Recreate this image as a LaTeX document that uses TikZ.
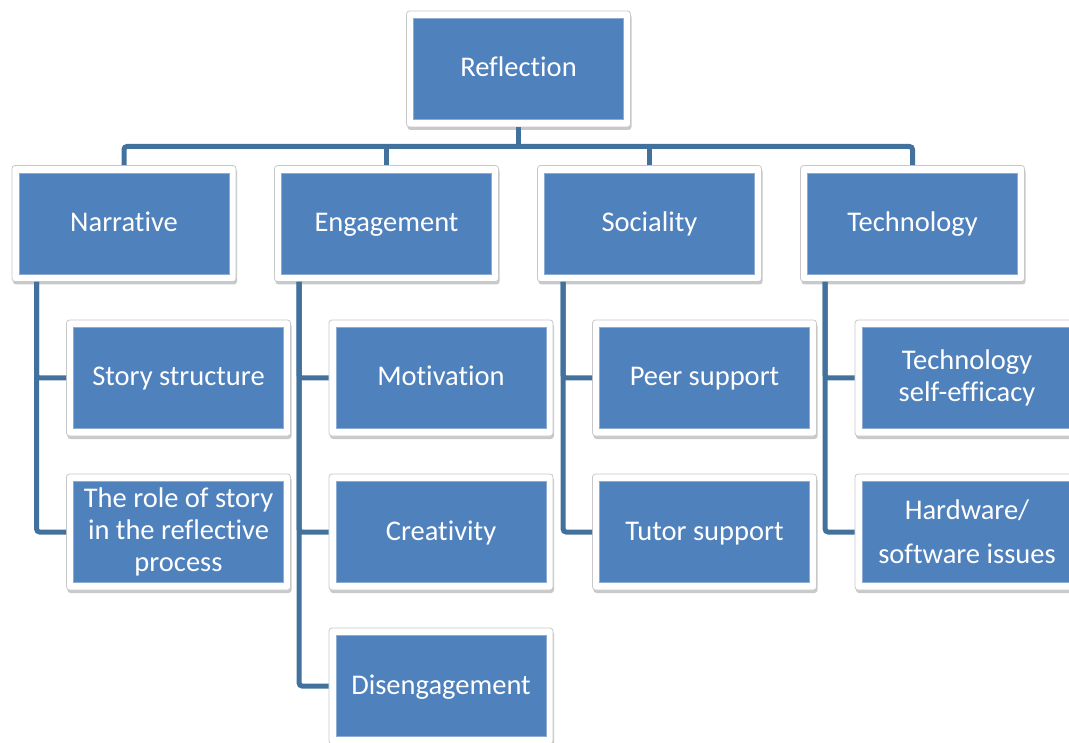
\documentclass[tikz,border=0pt]{standalone}
\usepackage{fontspec}
\setmainfont[Ligatures=NoCommon]{Carlito}
\usetikzlibrary{shadows}
\definecolor{boxblue}{RGB}{79,129,189}
\definecolor{linkblue}{RGB}{65,113,156}
\definecolor{framegray}{RGB}{200,200,200}
\definecolor{innerrim}{RGB}{140,172,212}
\tikzset{
  frame/.style={draw=framegray, line width=0.8pt, fill=white, rounded corners=3pt,
    minimum width=224pt, minimum height=116pt, inner sep=0pt,
    drop shadow={opacity=0.3, shadow xshift=1pt, shadow yshift=-3pt, fill=black!70}},
  face/.style={fill=boxblue, draw=innerrim, line width=0.6pt, minimum width=210pt,
    minimum height=101pt, inner sep=0pt, text=white, align=center,
    font=\fontsize{28.5}{32}\selectfont},
  oneline/.style={text height=22pt, text depth=6pt},
  conn/.style={draw=linkblue, line width=5pt, rounded corners=3pt},
}
\begin{document}
\begin{tikzpicture}[x=1pt,y=-1pt]
\useasboundingbox (0,0) rectangle (1069,743);
\clip (0,0) rectangle (1069,743);
% top
\node[frame] (ref) at (518.5,69) {};
\node[face,oneline] (refF) at (ref) {Reflection};
% level 1
\node[frame] (nar) at (124,223.5) {};
\node[face,oneline] (narF) at (nar) {Narrative};
\node[frame] (eng) at (386.5,223.5) {};
\node[face,oneline] (engF) at (eng) {Engagement};
\node[frame] (soc) at (649.5,223.5) {};
\node[face,oneline] (socF) at (soc) {Sociality};
\node[frame] (tec) at (912.5,223.5) {};
\node[face,oneline] (tecF) at (tec) {Technology};
% level 2
\node[frame] (sto) at (178.5,378) {};
\node[face,oneline] (stoF) at (sto) {Story structure};
\node[frame] (rol) at (178.5,532) {};
\node[face] (rolF) at (rol) {The role of story\\in the reflective\\process};
\node[frame] (mot) at (441,378) {};
\node[face,oneline] (motF) at (mot) {Motivation};
\node[frame] (cre) at (441,532) {};
\node[face,oneline] (creF) at (cre) {Creativity};
\node[frame] (dis) at (441,686) {};
\node[face,oneline] (disF) at (dis) {Disengagement};
\node[frame] (pee) at (704.5,378) {};
\node[face,oneline] (peeF) at (pee) {Peer support};
\node[frame] (tut) at (704.5,532) {};
\node[face,oneline] (tutF) at (tut) {Tutor support};
\node[frame] (tse) at (967,378) {};
\node[face] (tseF) at (tse) {Technology\\self-efficacy};
\node[frame] (hw) at (967,532) {};
\node[face] (hwF) at (hw) {Hardware/\\[12pt]software issues};
% connectors
\coordinate (bus) at (0,146.5);
\draw[conn] (ref.south) -- (ref.south |- bus);
\draw[conn] (nar.north) -- (nar.north |- bus) -- (tec.north |- bus) -- (tec.north);
\draw[conn] (eng.north) -- (eng.north |- bus);
\draw[conn] (soc.north) -- (soc.north |- bus);
\draw[conn] ([xshift=25pt]nar.south west) |- (sto.west);
\draw[conn] ([xshift=25pt]nar.south west) |- (rol.west);
\draw[conn] ([xshift=25pt]eng.south west) |- (mot.west);
\draw[conn] ([xshift=25pt]eng.south west) |- (cre.west);
\draw[conn] ([xshift=25pt]eng.south west) |- (dis.west);
\draw[conn] ([xshift=26pt]soc.south west) |- (pee.west);
\draw[conn] ([xshift=26pt]soc.south west) |- (tut.west);
\draw[conn] ([xshift=25pt]tec.south west) |- (tse.west);
\draw[conn] ([xshift=25pt]tec.south west) |- (hw.west);
\end{tikzpicture}
\end{document}
